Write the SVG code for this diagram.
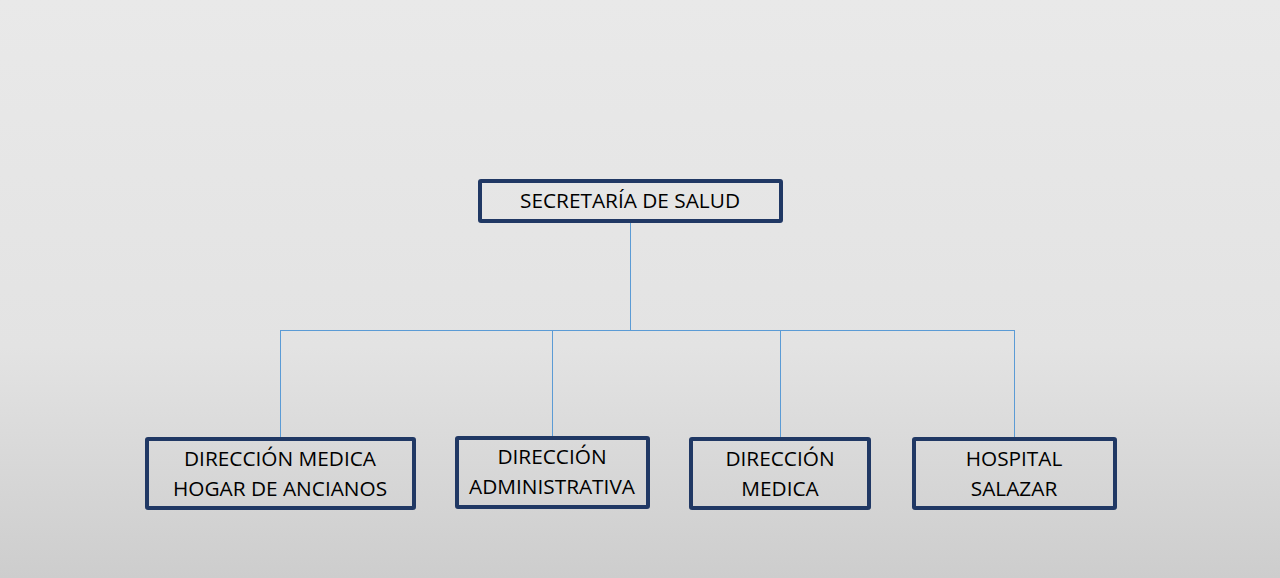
<svg xmlns="http://www.w3.org/2000/svg" width="1280" height="578" viewBox="0 0 1280 578">
<defs>
<linearGradient id="bg" x1="0" y1="0" x2="0" y2="1">
<stop offset="0" stop-color="#e9e9e9"/>
<stop offset="0.6" stop-color="#e3e3e3"/>
<stop offset="1" stop-color="#cdcdcd"/>
</linearGradient>
</defs>
<style>
.box{fill:none;stroke:#203864;stroke-width:4}
.t{font-family:"Open Sans","Liberation Sans",sans-serif;font-size:20.8px;fill:#000;text-anchor:middle}
.c{stroke:#5b9bd5;stroke-width:1;fill:none}
</style>
<rect width="1280" height="578" fill="url(#bg)"/>
<g id="connectors">
<path class="c" d="M630.5 222V330.5M280.5 330.5H1014.5M280.5 330V439M552.5 330V438M780.5 330V439M1014.5 330V439"/>
</g>
<g id="n0"><rect class="box" x="480" y="181" width="301" height="40" rx="1"/><text class="t" x="630" y="208">SECRETARÍA DE SALUD</text></g>
<g id="n1"><rect class="box" x="147" y="439" width="267" height="69" rx="1"/><text class="t" x="280" y="466">DIRECCIÓN MEDICA</text><text class="t" x="280" y="496">HOGAR DE ANCIANOS</text></g>
<g id="n2"><rect class="box" x="457" y="438" width="191" height="69" rx="1"/><text class="t" x="552" y="464">DIRECCIÓN</text><text class="t" x="552" y="494">ADMINISTRATIVA</text></g>
<g id="n3"><rect class="box" x="691" y="439" width="178" height="69" rx="1"/><text class="t" x="780" y="466">DIRECCIÓN</text><text class="t" x="780" y="496">MEDICA</text></g>
<g id="n4"><rect class="box" x="914" y="439" width="201" height="69" rx="1"/><text class="t" x="1014" y="466">HOSPITAL</text><text class="t" x="1014" y="496">SALAZAR</text></g>
</svg>
